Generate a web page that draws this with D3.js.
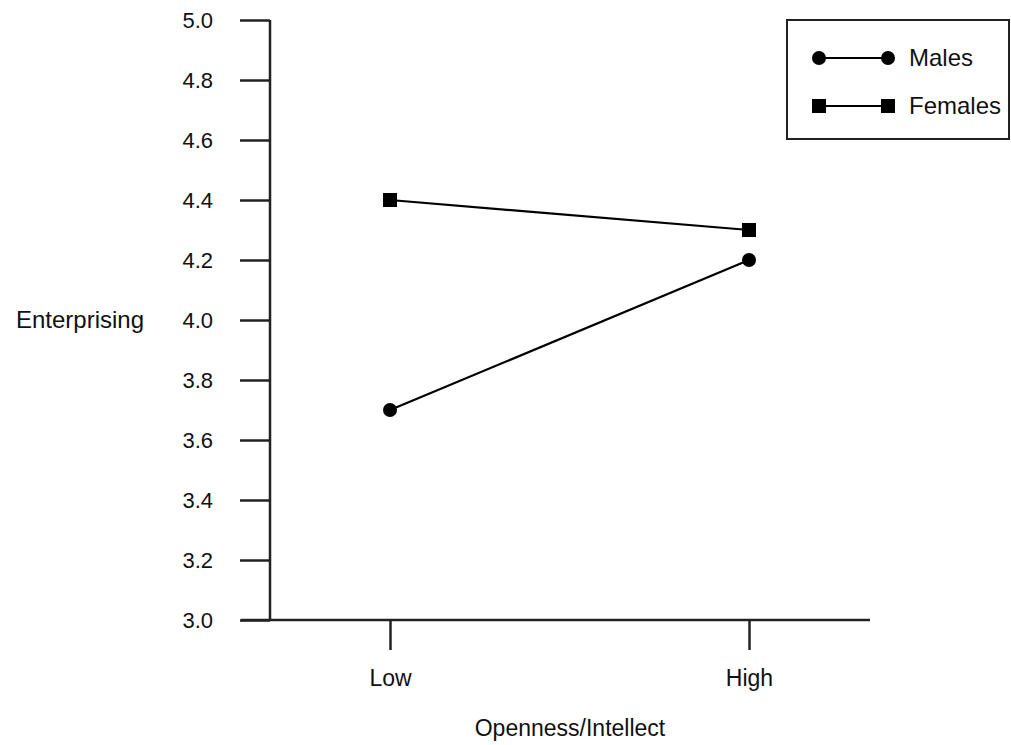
<!DOCTYPE html>
<html>
<head>
<meta charset="utf-8">
<script src="https://cdn.jsdelivr.net/npm/d3@7"></script>
<style>
  body { margin: 0; background: #fff; }
  text { font-family: "Liberation Sans", Arial, sans-serif; fill: #111; }
</style>
</head>
<body>
<script>
// data
var levels = ["Low", "High"];
var males = [3.7, 4.2];
var females = [4.4, 4.3];
var yTicks = [3.0, 3.2, 3.4, 3.6, 3.8, 4.0, 4.2, 4.4, 4.6, 4.8, 5.0];
var seriesNames = ["Males", "Females"];

var W = 1011, H = 745;
var svg = d3.select("body").append("svg").attr("width", W).attr("height", H);

// y scale: 3.0 at 620, 5.0 at 20
var y = d3.scaleLinear().domain([3, 5]).range([620, 20]);
var x = d3.scalePoint().domain(levels).range([390, 749]);

var axisColor = "#222";
var fs = "23px";

// y axis
var yAxis = svg.append("g").attr("transform", "translate(270,0)")
  .call(d3.axisLeft(y).tickValues(yTicks).tickFormat(d3.format(".1f")).tickSize(30).tickPadding(27));
yAxis.select(".domain").attr("d", "M0," + y(5) + "V" + y(3)).attr("stroke", axisColor).attr("stroke-width", 2.5);
yAxis.selectAll(".tick line").attr("stroke", axisColor).attr("stroke-width", 2.5);
yAxis.selectAll(".tick text").style("font-size", "22px").attr("fill", "#111");

// x axis
var xAxis = svg.append("g").attr("transform", "translate(0,620)")
  .call(d3.axisBottom(x).tickSize(30).tickPadding(20));
xAxis.select(".domain").attr("d", "M241,0H870").attr("stroke", axisColor).attr("stroke-width", 2.5);
xAxis.selectAll(".tick line").attr("stroke", axisColor).attr("stroke-width", 2.5);
xAxis.selectAll(".tick text").style("font-size", fs).attr("fill", "#111");

// titles
svg.append("text").attr("x", 80).attr("y", 320).attr("dy", "0.35em")
  .attr("text-anchor", "middle").style("font-size", "24px").text("Enterprising");
svg.append("text").attr("x", 570).attr("y", 736)
  .attr("text-anchor", "middle").style("font-size", fs).text("Openness/Intellect");

var line = d3.line().x(function(d, i) { return x(levels[i]); }).y(function(d) { return y(d); });

// lines
[males, females].forEach(function(s) {
  svg.append("path").datum(s).attr("d", line)
    .attr("fill", "none").attr("stroke", "#000").attr("stroke-width", 2.2);
});

// markers
svg.selectAll("circle.m").data(males).enter().append("circle")
  .attr("class", "m")
  .attr("cx", function(d, i) { return x(levels[i]); })
  .attr("cy", function(d) { return y(d); })
  .attr("r", 7).attr("fill", "#000");

svg.selectAll("rect.f").data(females).enter().append("rect")
  .attr("class", "f")
  .attr("x", function(d, i) { return x(levels[i]) - 7; })
  .attr("y", function(d) { return y(d) - 7; })
  .attr("width", 14).attr("height", 14).attr("fill", "#000");

// legend
var lg = svg.append("g");
lg.append("rect").attr("x", 787).attr("y", 20).attr("width", 222).attr("height", 119)
  .attr("fill", "none").attr("stroke", axisColor).attr("stroke-width", 2);
var legRows = [58, 106];
seriesNames.forEach(function(name, i) {
  var yy = legRows[i];
  lg.append("line").attr("x1", 819).attr("x2", 888).attr("y1", yy).attr("y2", yy)
    .attr("stroke", "#000").attr("stroke-width", 2.2);
  [819, 888].forEach(function(xx) {
    if (i === 0) {
      lg.append("circle").attr("cx", xx).attr("cy", yy).attr("r", 7).attr("fill", "#000");
    } else {
      lg.append("rect").attr("x", xx - 7).attr("y", yy - 7).attr("width", 14).attr("height", 14).attr("fill", "#000");
    }
  });
  lg.append("text").attr("x", 909).attr("y", yy).attr("dy", "0.35em")
    .style("font-size", "24px").text(name);
});
</script>
</body>
</html>
